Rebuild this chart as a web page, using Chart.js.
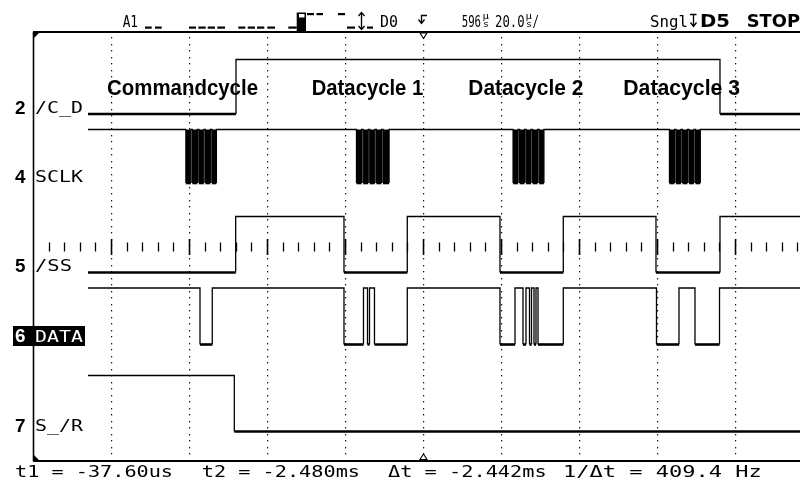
<!DOCTYPE html>
<html>
<head>
<meta charset="utf-8">
<style>
  html, body { margin: 0; padding: 0; background: #fff; }
  #wrap { width: 800px; height: 484px; overflow: hidden; }
</style>
</head>
<body>
<div id="wrap"><canvas id="scope" width="800" height="484"></canvas></div>
<script src="https://cdn.jsdelivr.net/npm/chart.js@4.4.1/dist/chart.umd.min.js"></script>
<script>
// time base: 20 us/div, delay 596 us at screen centre
const timePerDiv = 20;
const timeCentre = 596;
const traceStart = 510.1;
const traceEnd = 700;

// channels, top to bottom
const channelNames = ['/C_D', 'SCLK', '/SS', 'DATA', 'S_/R'];
const channelNumbers = ['2', '4', '5', '6', '7'];
const startLevels = [0, 1, 0, 1, 1];

// edge times in us (level toggles at each one)
const cdEdges = [548.05, 672.15];
const sclkEdges = [
  535.2, 536.47, 536.87, 538.14, 538.53, 539.8, 540.2, 541.47, 541.87, 543.02,
  578.95, 580.25, 580.65, 581.95, 582.35, 583.65, 584.05, 585.35, 585.75, 587.3,
  619.1, 620.37, 620.77, 622.04, 622.43, 623.7, 624.1, 625.37, 625.77, 627.0,
  659.2, 660.47, 660.87, 662.14, 662.53, 663.8, 664.2, 665.47, 665.87, 667.1
];
const ssEdges = [547.97, 575.74, 591.97, 615.74, 631.97, 655.74, 672.15];
const dataEdges = [
  538.82, 541.97,
  575.74, 580.74, 581.77, 582.28, 583.56, 591.97,
  615.74, 619.59, 621.64, 622.41, 623.31, 623.82, 624.46, 624.97, 625.49, 631.97,
  655.87, 661.64, 665.74, 672.03
];
const srEdges = [547.62];

// annotation and readout texts
const cycleNames = ['Commandcycle', 'Datacycle 1', 'Datacycle 2', 'Datacycle 3'];
const cursorText = ['t1 = -37.60us', 't2 = -2.480ms', '\u0394t = -2.442ms', '1/\u0394t = 409.4 Hz'];

// screen layout (pixels)
const screen = { left: 33, top: 32, bottom: 461, divPx: 78, centreY: 247 };
const lanes = [
  { high: 59.5, low: 114, label: 113 },
  { high: 129.5, low: 183, label: 182 },
  { high: 216.5, low: 272.5, label: 271 },
  { high: 288, low: 344.5, label: 341.5 },
  { high: 375.5, low: 431.5, label: 431 }
];
const cycleSpans = [[107, 258], [311.7, 423.3], [468.3, 583.3], [623.3, 740]];
const cursorSpans = [[15, 173], [201.7, 360], [388, 546.7], [563, 761.7]];

const xMin = timeCentre - 5 * timePerDiv - screen.left / screen.divPx * timePerDiv;
const xMax = xMin + 800 / screen.divPx * timePerDiv;

function stepPoints(first, edges, lane) {
    let lvl = first;
    const yOf = l => l ? lane.high : lane.low;
    const pts = [{ x: traceStart, y: yOf(lvl) }];
    edges.forEach(t => {
        pts.push({ x: t, y: yOf(lvl) });
        lvl = 1 - lvl;
        pts.push({ x: t, y: yOf(lvl) });
    });
    pts.push({ x: traceEnd, y: yOf(lvl) });
    return pts;
}

const allEdges = [cdEdges, sclkEdges, ssEdges, dataEdges, srEdges];
const datasets = allEdges.map((edges, i) => {
    const lane = lanes[i];
    const ds = {
        label: channelNames[i],
        data: stepPoints(startLevels[i], edges, lane),
        borderColor: '#000',
        borderWidth: 1.3,
        pointRadius: 0,
        fill: false,
        segment: {
            // low level is drawn heavier, like on the scope
            borderWidth: ctx => (ctx.p0.parsed.y === lane.low && ctx.p1.parsed.y === lane.low) ? 2.6 : 1.3
        }
    };
    if (channelNames[i] === 'SCLK') {
        ds.fill = { value: lane.high };
        ds.backgroundColor = '#000';
    }
    return ds;
});

function fitText(ctx, str, x0, x1, base, font, color) {
    ctx.save();
    ctx.font = font;
    ctx.fillStyle = color || '#000';
    ctx.textBaseline = 'alphabetic';
    const w = ctx.measureText(str).width;
    ctx.translate(x0, base);
    ctx.scale((x1 - x0) / w, 1);
    ctx.fillText(str, 0, 0);
    ctx.restore();
}

const MONO = '16px "DejaVu Sans Mono"';
const BOLDNUM = 'bold 19px "Liberation Sans"';

const scopeScreen = {
    id: 'scopeScreen',
    beforeDatasetsDraw(chart) {
        const ctx = chart.ctx;
        const xs = chart.scales.x;
        const ys = chart.scales.y;

        // cycle annotations
        cycleNames.forEach((name, i) => {
            fitText(ctx, name, cycleSpans[i][0], cycleSpans[i][1], 95, 'bold 22px "Liberation Sans"');
        });

        // dotted graticule
        ctx.save();
        ctx.fillStyle = '#111';
        for (let d = 1; d <= 10; d++) {
            const x = Math.round(xs.getPixelForValue(timeCentre + (d - 5) * timePerDiv));
            for (let y = 37; y < 458; y += 6.5) {
                ctx.fillRect(x, Math.round(y), 1.2, 1.4);
            }
        }
        // centre axis ticks, 5 per division
        const cy = ys.getPixelForValue(screen.centreY);
        ctx.strokeStyle = '#000';
        for (let k = 1; k <= 55; k++) {
            const x = Math.round(xs.getPixelForValue(timeCentre - 5 * timePerDiv + k * timePerDiv / 5)) + 0.5;
            const major = k % 5 === 0;
            ctx.lineWidth = major ? 1.6 : 1.3;
            ctx.beginPath();
            ctx.moveTo(x, cy - (major ? 8 : 4.5));
            ctx.lineTo(x, cy + (major ? 8 : 4.5));
            ctx.stroke();
        }
        ctx.restore();
    },
    afterDatasetsDraw(chart) {
        const ctx = chart.ctx;
        const xs = chart.scales.x;
        const trigX = Math.round(xs.getPixelForValue(timeCentre)) + 0.5;
        ctx.save();
        ctx.strokeStyle = '#000';
        ctx.fillStyle = '#000';

        // frame
        ctx.lineWidth = 2;
        ctx.beginPath();
        ctx.moveTo(screen.left, screen.top);
        ctx.lineTo(800, screen.top);
        ctx.moveTo(screen.left, screen.bottom);
        ctx.lineTo(800, screen.bottom);
        ctx.stroke();
        ctx.lineWidth = 1.6;
        ctx.beginPath();
        ctx.moveTo(screen.left + 0.5, screen.top);
        ctx.lineTo(screen.left + 0.5, screen.bottom);
        ctx.stroke();

        // corner marks
        ctx.beginPath();
        ctx.moveTo(33, 33); ctx.lineTo(39, 33); ctx.lineTo(33, 39); ctx.closePath();
        ctx.moveTo(33, 460); ctx.lineTo(39, 460); ctx.lineTo(33, 454); ctx.closePath();
        ctx.fill();

        // trigger position marks
        ctx.lineWidth = 1.1;
        ctx.fillStyle = '#fff';
        ctx.beginPath();
        ctx.moveTo(trigX - 3.5, 33); ctx.lineTo(trigX + 3.5, 33); ctx.lineTo(trigX, 38.5); ctx.closePath();
        ctx.fill(); ctx.stroke();
        ctx.beginPath();
        ctx.moveTo(trigX - 3.5, 459.5); ctx.lineTo(trigX + 3.5, 459.5); ctx.lineTo(trigX, 454); ctx.closePath();
        ctx.fill(); ctx.stroke();
        ctx.fillStyle = '#000';

        // channel labels
        lanes.forEach((lane, i) => {
            const isData = channelNames[i] === 'DATA';
            if (isData) {
                ctx.fillRect(13, 326, 72, 20);
            }
            const col = isData ? '#fff' : '#000';
            fitText(ctx, channelNumbers[i], 15, 25.5, lane.label + 0.5, BOLDNUM, col);
            const endX = channelNames[i] === '/SS' ? 72 : 83;
            fitText(ctx, channelNames[i], 35, endX, lane.label, MONO, col);
        });

        // cursor readout
        cursorText.forEach((s, i) => {
            fitText(ctx, s, cursorSpans[i][0], cursorSpans[i][1], 476.5, MONO);
        });

        // status line
        fitText(ctx, 'A1', 122.7, 138, 26.5, '15px "DejaVu Sans Mono"');
        const lowDash = [[145, 151.7], [155, 161.7], [189, 196], [198.3, 205.7], [207.7, 215], [217.3, 225],
            [238.3, 245.3], [247.7, 255], [257, 264.3], [267.3, 275], [288.3, 296.7], [347, 355], [367, 373]];
        lowDash.forEach(d => ctx.fillRect(d[0], 26.5, d[1] - d[0], 2.2));
        const highDash = [[307, 314], [316.5, 323], [338, 345]];
        highDash.forEach(d => ctx.fillRect(d[0], 13, d[1] - d[0], 2.2));
        ctx.fillRect(296.7, 12.5, 9.3, 19.5);
        ctx.fillStyle = '#fff';
        ctx.fillRect(299, 14, 5.5, 3.5);
        ctx.fillStyle = '#000';
        // up/down arrow
        ctx.lineWidth = 1.3;
        ctx.beginPath();
        ctx.moveTo(361.5, 13); ctx.lineTo(361.5, 29);
        ctx.moveTo(358.5, 16); ctx.lineTo(361.5, 12.5); ctx.lineTo(364.5, 16);
        ctx.moveTo(358.5, 26); ctx.lineTo(361.5, 29.5); ctx.lineTo(364.5, 26);
        ctx.stroke();
        fitText(ctx, 'D0', 380, 398, 26.5, '15px "DejaVu Sans Mono"');

        // trigger edge symbol
        ctx.beginPath();
        ctx.moveTo(427, 15.5); ctx.lineTo(421.5, 15.5); ctx.lineTo(421.5, 23);
        ctx.moveTo(418.5, 19.5); ctx.lineTo(421.5, 23.5); ctx.lineTo(424.5, 19.5);
        ctx.stroke();

        fitText(ctx, '596', 461.7, 481, 26.5, '16px "DejaVu Sans Mono"');
        fitText(ctx, '\u00b5', 482.5, 489, 19, '9px "DejaVu Sans Mono"');
        fitText(ctx, 's', 483, 489, 26.5, '9px "DejaVu Sans Mono"');
        fitText(ctx, '20.0', 495, 524.5, 26.5, '16px "DejaVu Sans Mono"');
        fitText(ctx, '\u00b5', 525.5, 532, 19, '9px "DejaVu Sans Mono"');
        fitText(ctx, 's', 526, 532, 26.5, '9px "DejaVu Sans Mono"');
        fitText(ctx, '/', 532.5, 539, 26.5, '16px "DejaVu Sans Mono"');

        fitText(ctx, 'Sngl', 650, 688, 26.5, '15px "DejaVu Sans Mono"');
        ctx.beginPath();
        ctx.moveTo(690, 14.5); ctx.lineTo(696.5, 14.5);
        ctx.moveTo(693.5, 14.5); ctx.lineTo(693.5, 26);
        ctx.moveTo(690.5, 22.5); ctx.lineTo(693.5, 26.5); ctx.lineTo(696.5, 22.5);
        ctx.stroke();
        fitText(ctx, 'D5', 700, 730, 26.5, 'bold 17px "DejaVu Sans"');
        fitText(ctx, 'STOP', 746.7, 800, 26.5, 'bold 17px "DejaVu Sans"');

        ctx.restore();
    }
};

new Chart(document.getElementById('scope'), {
    type: 'line',
    data: { datasets: datasets },
    options: {
        responsive: false,
        animation: false,
        events: [],
        layout: { padding: 0 },
        plugins: {
            legend: { display: false },
            tooltip: { enabled: false }
        },
        elements: { point: { radius: 0 }, line: { tension: 0 } },
        scales: {
            x: { type: 'linear', display: false, min: xMin, max: xMax },
            y: { type: 'linear', display: false, min: 0, max: 484, reverse: true }
        }
    },
    plugins: [scopeScreen]
});
</script>
</body>
</html>
